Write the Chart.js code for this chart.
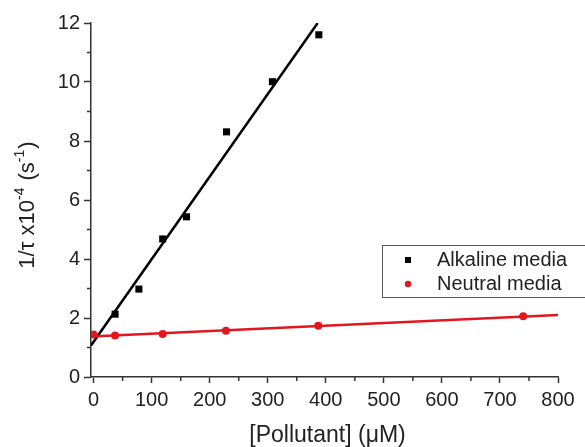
<!DOCTYPE html>
<html>
<head>
<meta charset="utf-8">
<script src="https://cdn.jsdelivr.net/npm/chart.js@4/dist/chart.umd.min.js"></script>
<style>
  html, body { margin: 0; padding: 0; background: #fff; }
  #wrap { width: 585px; height: 447px; position: relative; }
</style>
</head>
<body>
<div id="wrap"><canvas id="chart" width="585" height="447"></canvas></div>
<script>
// ---- data ----
const alkalineX = [37, 78, 119, 160, 229, 308, 388];
const alkalineY = [2.13, 2.98, 4.68, 5.43, 8.31, 10.01, 11.6];
const neutralX = [0, 37, 119, 228, 387, 740];
const neutralY = [1.44, 1.41, 1.46, 1.57, 1.74, 2.06];

// linear fits (end points of the drawn lines)
const alkalineFitX = [-4.5, 386];
const alkalineFitY = [1.07, 12];
const neutralFitX = [-4.5, 800];
const neutralFitY = [1.37, 2.1];

const xMajorTicks = [0, 100, 200, 300, 400, 500, 600, 700, 800];
const xMinorTicks = [50, 150, 250, 350, 450, 550, 650, 750];
const yMajorTicks = [0, 2, 4, 6, 8, 10, 12];
const yMinorTicks = [1, 3, 5, 7, 9, 11];

const seriesLabels = ["Alkaline media", "Neutral media"];
const xTitle = "[Pollutant] (\u03BCM)";

const FONT = "'Liberation Sans', Arial, sans-serif";
const AXIS = "#333";
const RED = "#e3161e";

const toPts = (xs, ys) => xs.map((x, i) => ({ x: x, y: ys[i] }));

// minor ticks, axis titles and the boxed legend
const extras = {
  id: "extras",
  afterDraw(chart) {
    const ctx = chart.ctx;
    const a = chart.chartArea;
    const sx = chart.scales.x, sy = chart.scales.y;
    ctx.save();
    ctx.strokeStyle = AXIS;
    ctx.lineWidth = 1.5;
    xMinorTicks.forEach((v) => {
      const px = sx.getPixelForValue(v);
      ctx.beginPath(); ctx.moveTo(px, a.bottom); ctx.lineTo(px, a.bottom + 4); ctx.stroke();
    });
    yMinorTicks.forEach((v) => {
      const py = sy.getPixelForValue(v);
      ctx.beginPath(); ctx.moveTo(a.left - 4, py); ctx.lineTo(a.left, py); ctx.stroke();
    });

    // x title
    ctx.fillStyle = "#222";
    ctx.textAlign = "center";
    ctx.textBaseline = "middle";
    ctx.font = "23px " + FONT;
    ctx.fillText(xTitle, (a.left + a.right) / 2 + 3, 436);

    // y title with superscripts
    const parts = [
      { t: "1/\u03C4 x10", sup: false },
      { t: "-4", sup: true },
      { t: " (s", sup: false },
      { t: "-1", sup: true },
      { t: ")", sup: false },
    ];
    const big = "22px " + FONT, small = "14px " + FONT;
    let total = 0;
    parts.forEach((p) => {
      ctx.font = p.sup ? small : big;
      p.w = ctx.measureText(p.t).width + (p.sup ? 1 : 0);
      total += p.w;
    });
    ctx.translate(28, 205);
    ctx.rotate(-Math.PI / 2);
    ctx.textAlign = "left";
    let cx = -total / 2;
    parts.forEach((p) => {
      ctx.font = p.sup ? small : big;
      ctx.fillText(p.t, cx, p.sup ? -8 : 0);
      cx += p.w;
    });
    ctx.setTransform(1, 0, 0, 1, 0, 0);

    // legend box
    ctx.strokeStyle = "#555";
    ctx.lineWidth = 1;
    ctx.strokeRect(382.5, 245.5, 215, 52);
    ctx.fillStyle = "#000";
    ctx.fillRect(405, 257, 6, 6);
    ctx.fillStyle = RED;
    ctx.beginPath(); ctx.arc(408, 284, 3.2, 0, Math.PI * 2); ctx.fill();
    ctx.fillStyle = "#222";
    ctx.font = "20px " + FONT;
    ctx.textAlign = "left";
    ctx.textBaseline = "middle";
    ctx.fillText(seriesLabels[0], 437, 260);
    ctx.fillText(seriesLabels[1], 437, 284);
    ctx.restore();
  },
};

new Chart(document.getElementById("chart"), {
  type: "scatter",
  data: {
    datasets: [
      {
        label: seriesLabels[1],
        data: toPts(neutralX, neutralY),
        pointStyle: "circle",
        pointRadius: 4,
        backgroundColor: RED,
        borderColor: RED,
        borderWidth: 0,
        order: 0,
      },
      {
        label: "neutral fit",
        type: "line",
        data: toPts(neutralFitX, neutralFitY),
        borderColor: RED,
        borderWidth: 2.5,
        pointRadius: 0,
        fill: false,
        order: 1,
      },
      {
        label: seriesLabels[0],
        data: toPts(alkalineX, alkalineY),
        pointStyle: "rect",
        pointRadius: 5,
        backgroundColor: "#000",
        borderColor: "#000",
        borderWidth: 0,
        order: 2,
      },
      {
        label: "alkaline fit",
        type: "line",
        data: toPts(alkalineFitX, alkalineFitY),
        borderColor: "#000",
        borderWidth: 2.5,
        pointRadius: 0,
        fill: false,
        order: 3,
      },
    ],
  },
  options: {
    responsive: false,
    animation: false,
    layout: { padding: { top: 23, right: 27, left: 0, bottom: 0 } },
    plugins: {
      legend: { display: false },
      tooltip: { enabled: false },
    },
    scales: {
      x: {
        type: "linear",
        min: -4.5,
        max: 800,
        afterFit: (s) => { s.height = 70; },
        afterBuildTicks: (s) => { s.ticks = xMajorTicks.map((v) => ({ value: v })); },
        border: { display: true, color: AXIS, width: 1.5 },
        grid: { display: true, drawOnChartArea: false, drawTicks: true, tickLength: 6, tickColor: AXIS, tickWidth: 1.5 },
        ticks: { color: "#222", padding: 5, maxRotation: 0, autoSkip: false, font: { family: FONT, size: 20 } },
      },
      y: {
        type: "linear",
        min: 0,
        max: 12,
        afterFit: (s) => { s.width = 91; },
        afterBuildTicks: (s) => { s.ticks = yMajorTicks.map((v) => ({ value: v })); },
        border: { display: true, color: AXIS, width: 1.5 },
        grid: { display: true, drawOnChartArea: false, drawTicks: true, tickLength: 7, tickColor: AXIS, tickWidth: 1.5 },
        ticks: { color: "#222", padding: 4, autoSkip: false, font: { family: FONT, size: 20 } },
      },
    },
  },
  plugins: [extras],
});
</script>
</body>
</html>
